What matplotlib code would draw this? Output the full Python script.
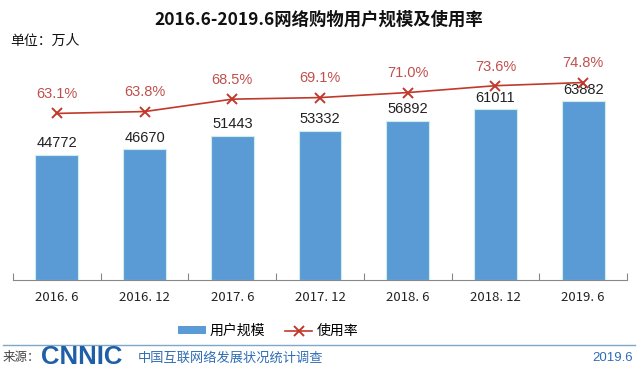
import matplotlib
matplotlib.use("Agg")
import matplotlib.pyplot as plt
import numpy as np
from matplotlib.lines import Line2D
from matplotlib.patches import Patch

categories = ["2016. 6", "2016. 12", "2017. 6", "2017. 12", "2018. 6", "2018. 12", "2019. 6"]
users = [44772, 46670, 51443, 53332, 56892, 61011, 63882]
rate = [63.1, 63.8, 68.5, 69.1, 71.0, 73.6, 74.8]

title = "2016.6-2019.6网络购物用户规模及使用率"
unit = "单位：万人"
legend_labels = ["用户规模", "使用率"]
source_label = "来源："
source_text = "中国互联网络发展状况统计调查"
date_text = "2019.6"

CJK = ["Noto Sans CJK SC", "DejaVu Sans"]
NUM = ["Liberation Sans", "Noto Sans CJK SC"]
plt.rcParams["font.family"] = CJK

bar_color = "#5B9BD5"
line_color = "#C0392B"
text_red = "#C0504D"

fig = plt.figure(figsize=(6.38, 3.70), dpi=100)
fig.patch.set_facecolor("white")

ax = fig.add_axes([13 / 638, 90 / 370, 614 / 638, 240 / 370])
ax.patch.set_alpha(0)
x = np.arange(len(categories))
ax.bar(x, users, width=0.49, color=bar_color, edgecolor="#CDEFE8", linewidth=0.8, zorder=2)
ax.set_xlim(-0.5, len(categories) - 0.5)
ax.set_ylim(0, 240 * 357.5)

for xi, v in zip(x, users):
    ax.text(xi, v + 1700, f"{v}", ha="center", va="bottom", fontsize=10.5,
            color="#222222", family=NUM, zorder=4)

ax2 = ax.twinx()
ax2.set_ylim(0, 240 / 2.64)
ax2.plot(x, rate, color=line_color, linewidth=1.2, marker="x", markersize=7,
         markeredgewidth=1.4, zorder=3)
for xi, r in zip(x, rate):
    ax2.text(xi, r + 4.6, f"{r:.1f}%", ha="center", va="bottom", fontsize=10.5,
             color=text_red, family=NUM)

for a in (ax, ax2):
    for s in ("top", "right", "left"):
        a.spines[s].set_visible(False)
    a.set_yticks([])
ax2.spines["bottom"].set_visible(False)
ax.spines["bottom"].set_color("#888888")
ax.spines["bottom"].set_linewidth(0.8)

ax.set_xticks(x)
ax.set_xticklabels(categories, fontsize=9.5, color="#222222", family=CJK)
ax.tick_params(axis="x", which="major", length=0, pad=8)
ax.set_xticks(np.arange(-0.5, len(categories), 1.0), minor=True)
ax.tick_params(axis="x", which="minor", length=5, direction="in", color="#888888", width=0.8)

fig.text(0.5, 1 - 20 / 370, title, ha="center", va="center", fontsize=12.5,
         fontweight="bold", color="#111111")
fig.text(10 / 638, 1 - 41 / 370, unit, ha="left", va="center", fontsize=10, color="#111111")

handles = [Patch(facecolor=bar_color, edgecolor="none"),
           Line2D([0], [0], color=line_color, marker="x", markersize=7, markeredgewidth=1.4, linewidth=1.2)]
fig.legend(handles, legend_labels, loc="center", bbox_to_anchor=(268 / 638, 1 - 331 / 370),
           ncol=2, frameon=False, fontsize=10, handlelength=2.0, handleheight=0.45,
           columnspacing=1.4, handletextpad=0.3)

# footer
fig.add_artist(Line2D([0.005, 0.995], [1 - 345 / 370] * 2, color="#7FA7C9", linewidth=1.0))
fig.text(3 / 638, 1 - 358 / 370, source_label, ha="left", va="center", fontsize=9, color="#444444")
fig.text(41 / 638, 1 - 357 / 370, "CNNIC", ha="left", va="center", fontsize=18.5, fontweight="bold",
         color="#1F5FA8", family=["Liberation Sans"])
fig.text(138 / 638, 1 - 358 / 370, source_text, ha="left", va="center", fontsize=9.5, color="#2F6DB5")
fig.text(633 / 638, 1 - 358 / 370, date_text, ha="right", va="center", fontsize=9.5,
         color="#2F6DB5", family=NUM)

fig.savefig("out.png", dpi=100)
